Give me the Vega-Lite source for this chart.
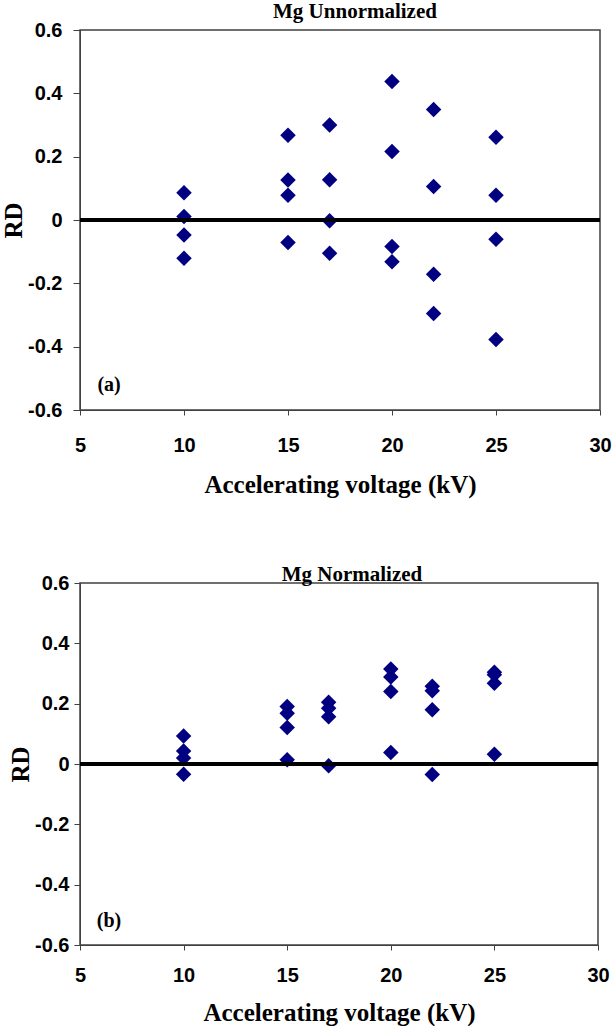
{
  "$schema": "https://vega.github.io/schema/vega-lite/v6.json",
  "background": "white",
  "padding": {"left": 0, "top": 0, "right": 0, "bottom": 0},
  "columns": 1,
  "align": "none",
  "spacing": 65,
  "datasets": {
    "unnorm": [
      {"kV": 10, "RD": 0.086}, {"kV": 10, "RD": 0.011}, {"kV": 10, "RD": -0.047}, {"kV": 10, "RD": -0.121},
      {"kV": 15, "RD": 0.268}, {"kV": 15, "RD": 0.126}, {"kV": 15, "RD": 0.078}, {"kV": 15, "RD": -0.071},
      {"kV": 17, "RD": 0.300}, {"kV": 17, "RD": 0.127}, {"kV": 17, "RD": -0.002}, {"kV": 17, "RD": -0.105},
      {"kV": 20, "RD": 0.437}, {"kV": 20, "RD": 0.216}, {"kV": 20, "RD": -0.084}, {"kV": 20, "RD": -0.132},
      {"kV": 22, "RD": 0.349}, {"kV": 22, "RD": 0.106}, {"kV": 22, "RD": -0.171}, {"kV": 22, "RD": -0.295},
      {"kV": 25, "RD": 0.261}, {"kV": 25, "RD": 0.078}, {"kV": 25, "RD": -0.061}, {"kV": 25, "RD": -0.377}
    ],
    "norm": [
      {"kV": 10, "RD": 0.093}, {"kV": 10, "RD": 0.043}, {"kV": 10, "RD": 0.020}, {"kV": 10, "RD": -0.034},
      {"kV": 15, "RD": 0.191}, {"kV": 15, "RD": 0.168}, {"kV": 15, "RD": 0.121}, {"kV": 15, "RD": 0.014},
      {"kV": 17, "RD": 0.205}, {"kV": 17, "RD": 0.185}, {"kV": 17, "RD": 0.157}, {"kV": 17, "RD": -0.006},
      {"kV": 20, "RD": 0.315}, {"kV": 20, "RD": 0.288}, {"kV": 20, "RD": 0.240}, {"kV": 20, "RD": 0.038},
      {"kV": 22, "RD": 0.258}, {"kV": 22, "RD": 0.243}, {"kV": 22, "RD": 0.180}, {"kV": 22, "RD": -0.035},
      {"kV": 25, "RD": 0.304}, {"kV": 25, "RD": 0.296}, {"kV": 25, "RD": 0.268}, {"kV": 25, "RD": 0.032}
    ]
  },
  "config": {
    "view": {"stroke": "#404040", "strokeWidth": 1.5},
    "axis": {
      "grid": false,
      "domainColor": "#404040",
      "tickColor": "#404040",
      "labelFont": "Liberation Sans",
      "labelFontWeight": "bold",
      "labelColor": "black",
      "labelFlush": false,
      "labelOverlap": false,
      "titleFont": "Liberation Serif",
      "titleFontWeight": "bold",
      "titleColor": "black"
    },
    "title": {"font": "Liberation Serif", "fontWeight": "bold", "color": "black"}
  },
  "concat": [
    {
      "width": 520,
      "height": 380,
      "title": {"text": "Mg Unnormalized", "fontSize": 21, "dx": 15, "offset": -19, "baseline": "alphabetic"},
      "layer": [
        {
          "data": {"name": "unnorm"},
          "mark": {"type": "point", "shape": "diamond", "filled": true, "size": 240, "color": "#000080", "opacity": 1},
          "encoding": {
            "x": {"field": "kV", "type": "quantitative", "scale": {"domain": [5, 30], "nice": false},
              "axis": {"values": [5, 10, 15, 20, 25, 30], "title": "Accelerating voltage (kV)", "labelFontSize": 20, "tickSize": 5, "labelPadding": 20, "titleFontSize": 25, "titlePadding": 17}},
            "y": {"field": "RD", "type": "quantitative", "scale": {"domain": [-0.6, 0.6], "nice": false},
              "axis": {"values": [-0.6, -0.4, -0.2, 0, 0.2, 0.4, 0.6], "title": "RD", "labelFontSize": 20, "tickSize": 7, "labelPadding": 11, "titleFontSize": 25, "titlePadding": 1,
                "labelExpr": "datum.value < 0 ? '-' + format(-datum.value, '.1f') : (datum.value == 0 ? '0' : format(datum.value, '.1f'))"}}
          }
        },
        {
          "data": {"values": [{"RD": 0}]},
          "mark": {"type": "rule", "strokeWidth": 4, "color": "black"},
          "encoding": {"y": {"field": "RD", "type": "quantitative"}}
        },
        {
          "data": {"values": [{"kV": 6.4, "RD": -0.52, "label": "(a)"}]},
          "mark": {"type": "text", "font": "Liberation Serif", "fontWeight": "bold", "fontSize": 20, "color": "black", "align": "center", "baseline": "middle"},
          "encoding": {
            "x": {"field": "kV", "type": "quantitative"},
            "y": {"field": "RD", "type": "quantitative"},
            "text": {"field": "label"}
          }
        }
      ]
    },
    {
      "width": 518,
      "height": 362,
      "title": {"text": "Mg Normalized", "fontSize": 21, "dx": 13, "offset": -29, "baseline": "alphabetic"},
      "layer": [
        {
          "data": {"name": "norm"},
          "mark": {"type": "point", "shape": "diamond", "filled": true, "size": 240, "color": "#000080", "opacity": 1},
          "encoding": {
            "x": {"field": "kV", "type": "quantitative", "scale": {"domain": [5, 30], "nice": false},
              "axis": {"values": [5, 10, 15, 20, 25, 30], "title": "Accelerating voltage (kV)", "labelFontSize": 20, "tickSize": 5, "labelPadding": 15, "titleFontSize": 25, "titlePadding": 15}},
            "y": {"field": "RD", "type": "quantitative", "scale": {"domain": [-0.6, 0.6], "nice": false},
              "axis": {"values": [-0.6, -0.4, -0.2, 0, 0.2, 0.4, 0.6], "title": "RD", "labelFontSize": 20, "tickSize": 6, "labelPadding": 5, "titleFontSize": 25, "titlePadding": 1,
                "labelExpr": "datum.value < 0 ? '-' + format(-datum.value, '.1f') : (datum.value == 0 ? '0' : format(datum.value, '.1f'))"}}
          }
        },
        {
          "data": {"values": [{"RD": 0}]},
          "mark": {"type": "rule", "strokeWidth": 4, "color": "black"},
          "encoding": {"y": {"field": "RD", "type": "quantitative"}}
        },
        {
          "data": {"values": [{"kV": 6.4, "RD": -0.52, "label": "(b)"}]},
          "mark": {"type": "text", "font": "Liberation Serif", "fontWeight": "bold", "fontSize": 20, "color": "black", "align": "center", "baseline": "middle"},
          "encoding": {
            "x": {"field": "kV", "type": "quantitative"},
            "y": {"field": "RD", "type": "quantitative"},
            "text": {"field": "label"}
          }
        }
      ]
    }
  ]
}
